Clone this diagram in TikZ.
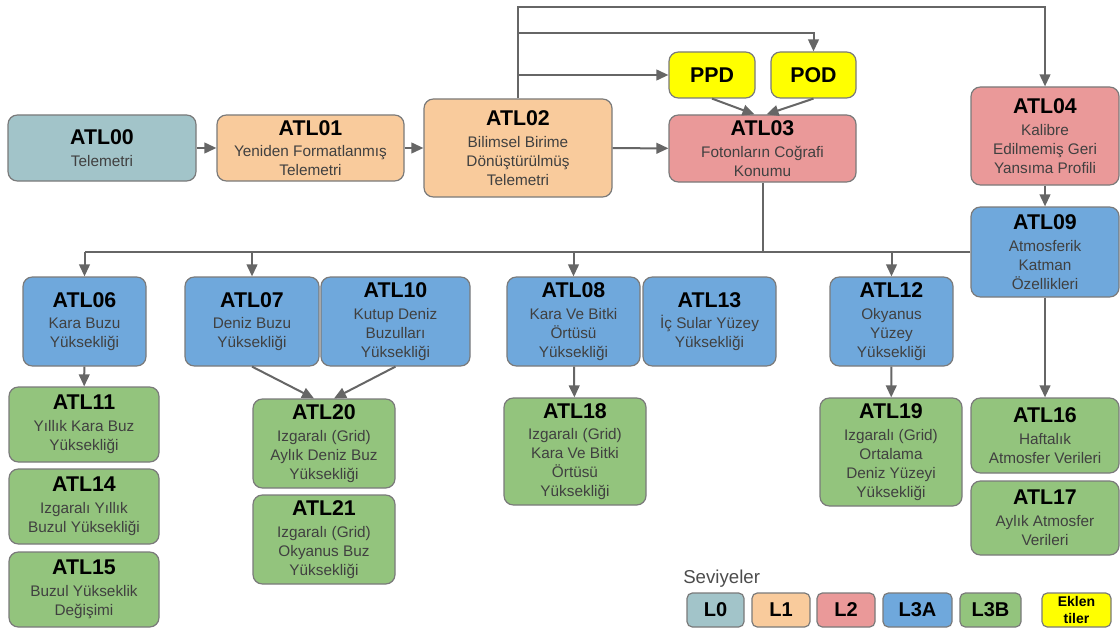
\documentclass[tikz,border=0pt]{standalone}
\usepackage{fontspec}
\setmainfont{Liberation Sans}
\usetikzlibrary{arrows.meta}
\definecolor{cLz}{HTML}{A2C4C9}
\definecolor{cLa}{HTML}{F9CB9C}
\definecolor{cLb}{HTML}{EA9999}
\definecolor{cLc}{HTML}{6FA8DC}
\definecolor{cLd}{HTML}{93C47D}
\definecolor{cEk}{HTML}{FFFF00}
\definecolor{arrc}{HTML}{666666}
\definecolor{bord}{HTML}{7A7A7A}
\newcommand\ttl[1]{{\fontsize{16}{18}\selectfont\bfseries\color{black}#1}}
\newcommand\atlbox[8]{\node[box, fill=#2, minimum width={(#5-#3)*0.75pt}, minimum height={(#6-#4)*0.75pt}] (#1) at ({(#3+#5)/2},{(#4+#6)/2}) {\ttl{#7}\\[2pt]#8};}
\newcommand\legbox[7]{\node[leg, fill=#2, minimum width={(#5-#3)*0.75pt}, minimum height={(#6-#4)*0.75pt}] (#1) at ({(#3+#5)/2},{(#4+#6)/2}) {#7};}
\tikzset{
  box/.style={draw=bord, line width=0.9pt, rounded corners=7pt, align=center, inner sep=0pt, text=black!75, font=\fontsize{11.5}{14.25}\selectfont},
  leg/.style={draw=bord, line width=0.9pt, rounded corners=4pt, align=center, inner sep=0pt, text=black, font=\fontsize{15}{17}\selectfont\bfseries},
  arr/.style={draw=arrc, line width=1.5pt, -{Triangle[length=9pt,width=8pt]}},
  ln/.style={draw=arrc, line width=1.5pt}
}
\begin{document}
\begin{tikzpicture}[x=0.75pt,y=-0.75pt]
\useasboundingbox (0,0) rectangle (1120,631);
% top row
\atlbox{a00}{cLz}{8}{115}{196}{181}{ATL00}{Telemetri}
\atlbox{a01}{cLa}{217}{115}{404}{181}{ATL01}{Yeniden Formatlanmış\\Telemetri}
\atlbox{a02}{cLa}{424}{99}{612}{197}{ATL02}{Bilimsel Birime\\Dönüştürülmüş\\Telemetri}
\atlbox{a03}{cLb}{669}{115}{856}{182}{ATL03}{Fotonların Coğrafi\\Konumu}
\node[box, fill=cEk, minimum width={86*0.75pt}, minimum height={46*0.75pt}] (ppd) at (712,75) {\ttl{PPD}};
\node[box, fill=cEk, minimum width={85*0.75pt}, minimum height={46*0.75pt}] (pod) at (813.5,75) {\ttl{POD}};
\atlbox{a04}{cLb}{971}{87}{1119}{185}{ATL04}{Kalibre\\Edilmemiş Geri\\Yansıma Profili}
\atlbox{a09}{cLc}{971}{207}{1119}{297}{ATL09}{Atmosferik\\Katman\\Özellikleri}
% L3A row
\atlbox{a06}{cLc}{23}{277}{146}{366}{ATL06}{Kara Buzu\\Yüksekliği}
\atlbox{a07}{cLc}{185}{277}{319}{366}{ATL07}{Deniz Buzu\\Yüksekliği}
\atlbox{a10}{cLc}{321}{277}{470}{366}{ATL10}{Kutup Deniz\\Buzulları\\Yüksekliği}
\atlbox{a08}{cLc}{507}{277}{640}{366}{ATL08}{Kara Ve Bitki\\Örtüsü\\Yüksekliği}
\atlbox{a13}{cLc}{643}{277}{776}{366}{ATL13}{İç Sular Yüzey\\Yüksekliği}
\atlbox{a12}{cLc}{830}{277}{953}{366}{ATL12}{Okyanus\\Yüzey\\Yüksekliği}
% L3B
\atlbox{a11}{cLd}{9}{387}{159}{462}{ATL11}{Yıllık Kara Buz\\Yüksekliği}
\atlbox{a14}{cLd}{9}{469}{159}{544}{ATL14}{Izgaralı Yıllık\\Buzul Yüksekliği}
\atlbox{a15}{cLd}{9}{552}{159}{627}{ATL15}{Buzul Yükseklik\\Değişimi}
\atlbox{a20}{cLd}{253}{399}{395}{488}{ATL20}{Izgaralı (Grid)\\Aylık Deniz Buz\\Yüksekliği}
\atlbox{a21}{cLd}{253}{495}{395}{584}{ATL21}{Izgaralı (Grid)\\Okyanus Buz\\Yüksekliği}
\atlbox{a18}{cLd}{504}{398}{646}{505}{ATL18}{Izgaralı (Grid)\\Kara Ve Bitki\\Örtüsü\\Yüksekliği}
\atlbox{a19}{cLd}{820}{398}{962}{506}{ATL19}{Izgaralı (Grid)\\Ortalama\\Deniz Yüzeyi\\Yüksekliği}
\atlbox{a16}{cLd}{971}{398}{1119}{473}{ATL16}{Haftalık\\Atmosfer Verileri}
\atlbox{a17}{cLd}{971}{481}{1119}{555}{ATL17}{Aylık Atmosfer\\Verileri}
% legend
\node[anchor=west, inner sep=0pt, text=black!70, font=\fontsize{14}{16}\selectfont] (sev) at (683,579) {Seviyeler};
\legbox{lz}{cLz}{687}{593}{744}{627}{L0}
\legbox{la}{cLa}{752}{593}{810}{627}{L1}
\legbox{lb}{cLb}{817}{593}{875}{627}{L2}
\legbox{lc}{cLc}{883}{593}{952}{627}{L3A}
\legbox{ld}{cLd}{960}{593}{1021}{627}{L3B}
\node[leg, fill=cEk, minimum width={69*0.75pt}, minimum height={34*0.75pt}, font=\fontsize{10.5}{12.5}\selectfont\bfseries] (le) at (1076.5,610) {Eklen\\tiler};
% connectors
\coordinate (topc) at (0,7);
\coordinate (podc) at (0,33);
\draw[arr] (a00) -- (a01);
\draw[arr] (a01) -- (a02);
\draw[arr] (a02) -- (a03);
\draw[arr] (a02.north) -- (a02.north |- topc) -| (a04.north);
\draw[arr] (a02.north |- podc) -| (pod.north);
\draw[arr] (a02.north |- ppd.west) -- (ppd.west);
\draw[arr] (ppd.south) -- ([xshift=-6pt]a03.north);
\draw[arr] (pod.south) -- ([xshift=3pt]a03.north);
\draw[arr] (a04) -- (a09);
\draw[ln] (a03.south) |- (a09.west);
\draw[ln] (a09.west) -- (a09.west -| a06.north);
\draw[arr] (a06.north |- a09.west) -- (a06.north);
\draw[arr] (a07.north |- a09.west) -- (a07.north);
\draw[arr] (a08.north |- a09.west) -- (a08.north);
\draw[arr] (a12.north |- a09.west) -- (a12.north);
\draw[arr] (a06) -- (a11);
\draw[arr] (a07.south) -- ([xshift=-7.5pt]a20.north);
\draw[arr] (a10.south) -- ([xshift=7.5pt]a20.north);
\draw[arr] (a08) -- (a18);
\draw[arr] (a12) -- (a19);
\draw[arr] (a09) -- (a16);
\end{tikzpicture}
\end{document}
